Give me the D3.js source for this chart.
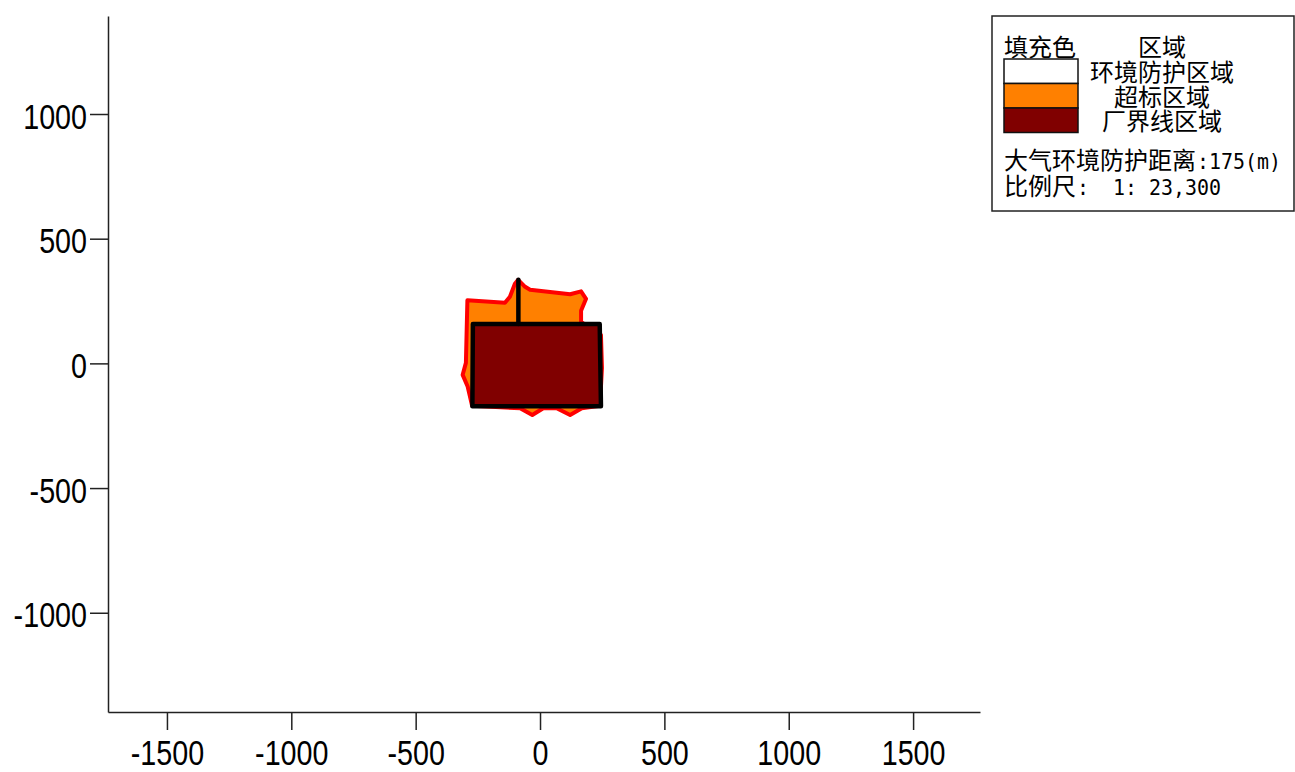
<!DOCTYPE html>
<html>
<head>
<meta charset="utf-8">
<script src="https://cdn.jsdelivr.net/npm/d3@7"></script>
<style>
  html, body { margin: 0; padding: 0; background: #fff; }
  svg { display: block; }
</style>
</head>
<body>
<svg id="chart" width="1295" height="772"></svg>
<script>
// ---- data ----
const xTicks = [-1500, -1000, -500, 0, 500, 1000, 1500];
const yTicks = [-1000, -500, 0, 500, 1000];
const xDomain = [-1737, 1769];
const yDomain = [-1398, 1393];

// 超标区域 (exceedance area) outline, metres
const exceedArea = [
  [-292, 253], [-141, 243], [-121, 267], [-101, 319], [-88, 335], [-60, 307],
  [-40, 295], [121, 277], [165, 289], [185, 259], [165, 211], [165, 166],
  [245, 114], [249, -18], [241, -170], [168, -180], [121, -207], [67, -180],
  [13, -180], [-31, -207], [-80, -180], [-273, -170], [-291, -93], [-311, -46],
  [-298, 2]
];
// 厂界线区域 (plant boundary)
const boundaryArea = [[-270, 158], [240, 158], [245, -172], [-272, -172]];
const boundaryLine = [[-87, 158], [-87, 335]];

const legendHeader = ["填充色", "区域"];
const legendCategories = ["环境防护区域", "超标区域", "厂界线区域"];
const legendColors = ["#FFFFFF", "#FF8000", "#800000"];
const distanceLabel = "大气环境防护距离";
const distanceValue = ":175(m)";
const scaleLabel = "比例尺";
const scaleValue = ":  1: 23,300";

// ---- drawing ----
const svg = d3.select("#chart");
const x = d3.scaleLinear().domain(xDomain).range([108, 980]);
const y = d3.scaleLinear().domain(yDomain).range([712, 16]);

const line = d3.line().x(d => x(d[0])).y(d => y(d[1]));

const tickFont = "'Liberation Sans', Arial, sans-serif";
const squeeze = 0.82;

// x axis
const gx = svg.append("g").attr("transform", "translate(0,712)")
  .call(d3.axisBottom(x).tickValues(xTicks).tickSize(18).tickSizeOuter(0).tickFormat(d => String(d)));
gx.select(".domain").attr("stroke", "#222").attr("stroke-width", 1.5);
gx.selectAll(".tick line").attr("stroke", "#222").attr("stroke-width", 1.5);
gx.selectAll(".tick text").attr("y", 53).attr("dy", 0)
  .attr("transform", `scale(${squeeze},1)`)
  .attr("font-family", tickFont).attr("font-size", 35).attr("fill", "#000");

// y axis
const gy = svg.append("g").attr("transform", "translate(108,0)")
  .call(d3.axisLeft(y).tickValues(yTicks).tickSize(18).tickSizeOuter(0).tickPadding(3).tickFormat(d => String(d)));
gy.select(".domain").attr("stroke", "#222").attr("stroke-width", 1.5);
gy.selectAll(".tick line").attr("stroke", "#222").attr("stroke-width", 1.5);
gy.selectAll(".tick text").attr("x", -21 / squeeze).attr("dy", 14)
  .attr("transform", `scale(${squeeze},1)`)
  .attr("font-family", tickFont).attr("font-size", 35).attr("fill", "#000");

// exceedance area
svg.append("path")
  .attr("d", line(exceedArea) + "Z")
  .attr("fill", legendColors[1])
  .attr("stroke", "#FF0000")
  .attr("stroke-width", 4)
  .attr("stroke-linejoin", "round");

// plant boundary
svg.append("path")
  .attr("d", line(boundaryArea) + "Z")
  .attr("fill", legendColors[2])
  .attr("stroke", "#000")
  .attr("stroke-width", 4.5)
  .attr("stroke-linejoin", "round");
svg.append("path")
  .attr("d", line(boundaryLine))
  .attr("fill", "none")
  .attr("stroke", "#000")
  .attr("stroke-width", 4.5)
  .attr("stroke-linecap", "round");

// legend
const cjk = "'Noto Sans CJK SC', sans-serif";
const mono = "'DejaVu Sans Mono', 'Liberation Mono', monospace";
const fs = 24;
const lg = svg.append("g");
lg.append("rect").attr("x", 992).attr("y", 16).attr("width", 302).attr("height", 195)
  .attr("fill", "#fff").attr("stroke", "#222").attr("stroke-width", 1.5);

lg.append("text").attr("x", 1004).attr("y", 56).attr("font-family", cjk).attr("font-size", fs)
  .attr("fill", "#000").text(legendHeader[0]);
lg.append("text").attr("x", 1162).attr("y", 56).attr("text-anchor", "middle").attr("font-family", cjk)
  .attr("font-size", fs).attr("fill", "#000").text(legendHeader[1]);

const rowH = 24.5;
legendCategories.forEach((c, i) => {
  lg.append("rect").attr("x", 1004).attr("y", 59 + i * rowH).attr("width", 74).attr("height", rowH)
    .attr("fill", legendColors[i]).attr("stroke", "#111").attr("stroke-width", 1.5);
  lg.append("text").attr("x", 1162).attr("y", 81 + i * rowH).attr("text-anchor", "middle")
    .attr("font-family", cjk).attr("font-size", fs).attr("fill", "#000").text(c);
});

lg.append("text").attr("x", 1004).attr("y", 169).attr("font-family", cjk).attr("font-size", fs)
  .attr("fill", "#000").text(distanceLabel);
lg.append("text").attr("x", 1197).attr("y", 169).attr("font-family", mono).attr("font-size", 22)
  .attr("textLength", distanceValue.length * 12).attr("lengthAdjust", "spacingAndGlyphs")
  .attr("fill", "#000").text(distanceValue);

lg.append("text").attr("x", 1004).attr("y", 195).attr("font-family", cjk).attr("font-size", fs)
  .attr("fill", "#000").text(scaleLabel);
lg.append("text").attr("x", 1077).attr("y", 195).attr("font-family", mono).attr("font-size", 22)
  .attr("xml:space", "preserve").style("white-space", "pre")
  .attr("textLength", scaleValue.length * 12).attr("lengthAdjust", "spacingAndGlyphs")
  .attr("fill", "#000").text(scaleValue);
</script>
</body>
</html>
